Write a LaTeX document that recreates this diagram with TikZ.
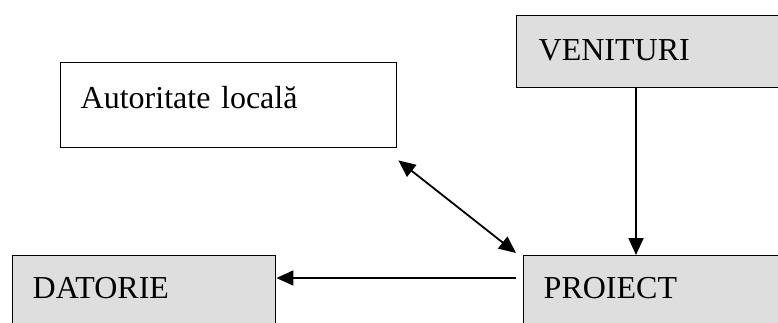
\documentclass[tikz,border=0pt]{standalone}
\usepackage{fontspec}
\setmainfont{Liberation Serif}
\usetikzlibrary{arrows.meta}
\definecolor{boxgray}{HTML}{DEDEDE}
\begin{document}
\begin{tikzpicture}[x=1pt,y=-1pt]
\tikzstyle{every node}+=[inner ysep=0pt,inner xsep=20pt,align=left,font=\fontsize{32}{38}\selectfont]
\tikzstyle{box}=[draw=black,line width=1.4pt,anchor=north west]
\tikzstyle{flow}=[line width=1.8pt,-{Triangle[length=17pt,width=15pt]}]
\useasboundingbox (0,0) rectangle (778,322);
\clip (0,0) rectangle (778,322);
\node [box,fill=boxgray,inner xsep=22pt,text width=240pt,text height=45pt,text depth=27pt] (ven) at (516,14.7) {VENITURI};
\node [box,text width=296pt,text height=46pt,text depth=39pt] (aut) at (60,62) {Autoritate locală};
\node [box,fill=boxgray,text width=223pt,text height=43pt,text depth=40pt] (dat) at (12,255) {DATORIE};
\node [box,fill=boxgray,text width=237pt,text height=43pt,text depth=40pt] (pro) at (523,255) {PROIECT};
\draw [flow] ([xshift=120pt]ven.south west) -- ([xshift=113pt]pro.north west);
\draw [flow] ([xshift=-7pt,yshift=-23pt]pro.north west) -- ([yshift=-23pt]dat.north east);
\draw [flow,{Triangle[length=17pt,width=15pt]}-{Triangle[length=17pt,width=15pt]}] ([xshift=1pt,yshift=-12pt]aut.south east) -- ([xshift=-7pt,yshift=2pt]pro.north west);
\end{tikzpicture}
\end{document}
